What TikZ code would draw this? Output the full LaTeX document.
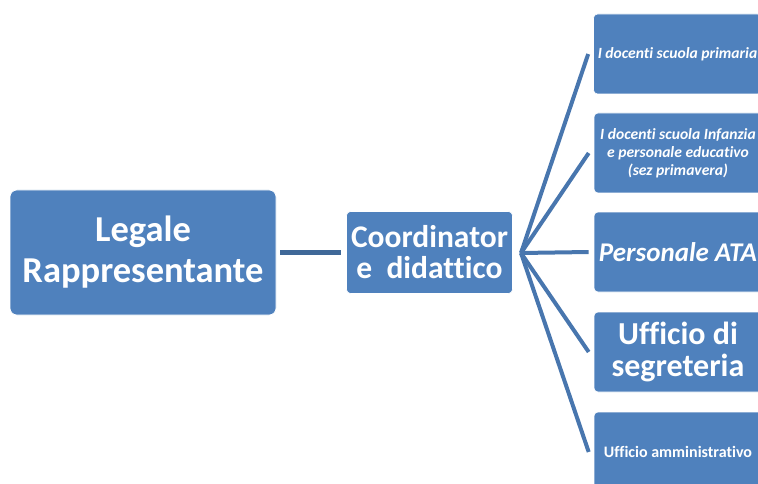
\documentclass[tikz,border=0pt]{standalone}
\usepackage{fontspec}
\setmainfont{Carlito}[Ligatures=NoCommon]
\definecolor{boxblue}{HTML}{4F81BD}
\definecolor{linkdark}{HTML}{3F6898}
\definecolor{fanblue}{HTML}{4876AE}
\begin{document}
\begin{tikzpicture}[x=1pt,y=-1pt,
  bx/.style={fill=boxblue,draw=white,line width=0.6pt,text=white,font=\bfseries,align=center,inner sep=0pt},
  fan/.style={draw=fanblue,line width=4pt},
  hlink/.style={draw=linkdark,line width=5pt}]
\useasboundingbox (0,0) rectangle (758,484);
\clip (0,0) rectangle (758,484);
% main boxes
\node[bx,rounded corners=7pt,minimum width=266pt,minimum height=125pt,font=\bfseries\fontsize{36.5}{41}\selectfont] (leg) at (143,252.5) {Legale\\Rappresentante};
\node[bx,rounded corners=4pt,minimum width=166pt,minimum height=82pt,font=\bfseries\fontsize{31.5}{31}\selectfont] (coo) at (429.5,252.5) {Coordinator\\e\ \ didattico};
% right boxes
\node[bx,rounded corners=4pt,minimum width=168pt,minimum height=80pt,font=\bfseries\itshape\fontsize{15.6}{18}\selectfont] (b1) at (677.5,54) {I docenti scuola primaria};
\node[bx,rounded corners=4pt,minimum width=168pt,minimum height=80pt,font=\bfseries\itshape\fontsize{15.6}{18}\selectfont] (b2) at (678,153) {I docenti scuola Infanzia\\e personale educativo\\(sez primavera)};
\node[bx,rounded corners=4pt,minimum width=168pt,minimum height=80pt,font=\bfseries\itshape\fontsize{27}{30}\selectfont] (b3) at (678,252) {Personale ATA};
\node[bx,rounded corners=4pt,minimum width=168pt,minimum height=80pt,font=\bfseries\fontsize{32}{31.5}\selectfont] (b4) at (678,352) {Ufficio di\\segreteria};
\node[bx,rounded corners=4pt,minimum width=168pt,minimum height=80pt,font=\bfseries\fontsize{16}{18}\selectfont] (b5) at (678,452) {Ufficio amministrativo};
% connectors
\coordinate (hub) at (521,253);
\draw[hlink] ([xshift=4pt]leg.east) -- ([xshift=-5pt]coo.west);
\foreach \b in {b1,b2,b3,b4,b5}{
  \draw[fan] (hub) -- ([xshift=-5pt]\b.west);
}
\end{tikzpicture}
\end{document}
